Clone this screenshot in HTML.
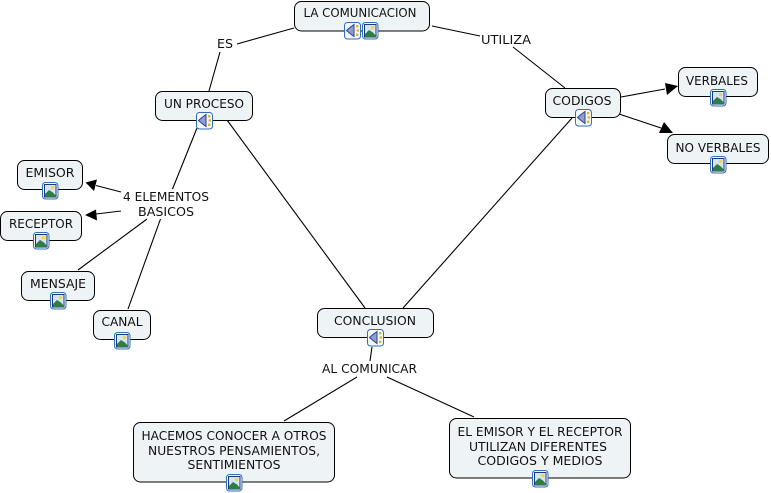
<!DOCTYPE html>
<html>
<head>
<meta charset="utf-8">
<style>
html,body{margin:0;padding:0;background:#fff;width:771px;height:493px;overflow:hidden}
svg{display:block}
text{font-family:"DejaVu Sans","Liberation Sans",sans-serif;font-size:12.2px;fill:#111;text-anchor:middle}
.n{fill:#eef3f6;stroke:#000;stroke-width:1}
.l{stroke:#000;stroke-width:1.1;fill:none}
.a{fill:#000}
</style>
</head>
<body>
<svg width="771" height="493" viewBox="0 0 771 493" xmlns="http://www.w3.org/2000/svg">
<defs>
<g id="img">
<rect x="0.5" y="0.5" width="15.5" height="16.5" rx="3" fill="#f4f8fc" stroke="#2f6fc0" stroke-width="1"/>
<rect x="2.5" y="2.5" width="11.5" height="12.5" fill="#d6e4f4" stroke="#1c3a78" stroke-width="1"/>
<circle cx="10.5" cy="5.5" r="1.8" fill="#f2d64a"/>
<path d="M3 15 L3 12 L7 8 L11 10.5 L14 14 L14 15 Z" fill="#2f7d45"/>
</g>
<g id="snd">
<rect x="0.5" y="0.5" width="16" height="16.5" rx="3" fill="#f4f8fc" stroke="#2f6fc0" stroke-width="1"/>
<path d="M2.5 8.5 L6 5.5 L10 2.5 L10 14.5 L6 11.5 Z" fill="#8d9fd2" stroke="#2c3f8a" stroke-width="1"/>
<rect x="12" y="3" width="2.4" height="2.4" fill="#d9b62e"/>
<rect x="12.6" y="7.3" width="2.4" height="2.4" fill="#d9b62e"/>
<rect x="12" y="11.6" width="2.4" height="2.4" fill="#d9b62e"/>
</g>
</defs>

<line class="l" x1="294" y1="28" x2="237" y2="44"/>
<line class="l" x1="220" y1="52" x2="209" y2="91"/>
<line class="l" x1="432" y1="26" x2="480" y2="36"/>
<line class="l" x1="513" y1="47" x2="565" y2="88"/>
<line class="l" x1="197" y1="128" x2="172.5" y2="189"/>
<line class="l" x1="227" y1="120" x2="365" y2="308"/>
<line class="l" x1="572" y1="118" x2="403" y2="308"/>
<line class="l" x1="372" y1="347" x2="370" y2="361"/>
<line class="l" x1="357" y1="377" x2="284" y2="421"/>
<line class="l" x1="387" y1="377" x2="474" y2="417"/>
<line class="l" x1="147" y1="219" x2="78" y2="270"/>
<line class="l" x1="160.5" y1="219" x2="128" y2="309"/>

<line class="l" x1="121" y1="192" x2="96" y2="185.5"/>
<polygon class="a" points="85.5,182.5 97,179.5 94,191"/>
<line class="l" x1="121" y1="211" x2="96" y2="214"/>
<polygon class="a" points="85,215 96,209.5 97,220.5"/>
<line class="l" x1="621" y1="97" x2="665" y2="89"/>
<polygon class="a" points="678,86 665,83 667,95"/>
<line class="l" x1="619" y1="114" x2="661" y2="128"/>
<polygon class="a" points="673,133 664,122 659,133"/>

<rect class="n" x="294.5" y="1.5" width="135" height="29.5" rx="7"/>
<rect class="n" x="155.5" y="91.5" width="97" height="29" rx="7"/>
<rect class="n" x="545.5" y="88.5" width="75" height="29" rx="7"/>
<rect class="n" x="678.5" y="67.5" width="79" height="29" rx="7"/>
<rect class="n" x="667.5" y="134.5" width="101" height="29" rx="7"/>
<rect class="n" x="17.5" y="160.5" width="65" height="29" rx="7"/>
<rect class="n" x="0.5" y="211.5" width="81" height="29" rx="7"/>
<rect class="n" x="21.5" y="271.5" width="73" height="29" rx="7"/>
<rect class="n" x="93.5" y="310.5" width="57" height="29" rx="7"/>
<rect class="n" x="317.5" y="308.5" width="116" height="29" rx="7"/>
<rect class="n" x="133.5" y="422.5" width="201" height="59.5" rx="7"/>
<rect class="n" x="449.5" y="418.5" width="181" height="59.5" rx="7"/>

<text x="360" y="17" textLength="113" lengthAdjust="spacingAndGlyphs">LA COMUNICACION</text>
<text x="204" y="108" textLength="80" lengthAdjust="spacingAndGlyphs">UN PROCESO</text>
<text x="582" y="105" textLength="59" lengthAdjust="spacingAndGlyphs">CODIGOS</text>
<text x="717" y="85" textLength="62" lengthAdjust="spacingAndGlyphs">VERBALES</text>
<text x="718" y="152" textLength="85" lengthAdjust="spacingAndGlyphs">NO VERBALES</text>
<text x="50" y="177" textLength="49" lengthAdjust="spacingAndGlyphs">EMISOR</text>
<text x="41" y="228" textLength="64" lengthAdjust="spacingAndGlyphs">RECEPTOR</text>
<text x="58" y="288" textLength="56" lengthAdjust="spacingAndGlyphs">MENSAJE</text>
<text x="122" y="326" textLength="41" lengthAdjust="spacingAndGlyphs">CANAL</text>
<text x="375" y="325" textLength="82" lengthAdjust="spacingAndGlyphs">CONCLUSION</text>
<text x="234" y="440" textLength="185" lengthAdjust="spacingAndGlyphs">HACEMOS CONOCER A OTROS</text>
<text x="234" y="455" textLength="172" lengthAdjust="spacingAndGlyphs">NUESTROS PENSAMIENTOS,</text>
<text x="234" y="469" textLength="93" lengthAdjust="spacingAndGlyphs">SENTIMIENTOS</text>
<text x="540" y="436" textLength="165" lengthAdjust="spacingAndGlyphs">EL EMISOR Y EL RECEPTOR</text>
<text x="538" y="451" textLength="138" lengthAdjust="spacingAndGlyphs">UTILIZAN DIFERENTES</text>
<text x="540" y="465" textLength="125" lengthAdjust="spacingAndGlyphs">CODIGOS Y MEDIOS</text>

<text x="225" y="48" textLength="16" lengthAdjust="spacingAndGlyphs">ES</text>
<text x="506" y="44" textLength="50" lengthAdjust="spacingAndGlyphs">UTILIZA</text>
<text x="166" y="201" textLength="86" lengthAdjust="spacingAndGlyphs">4 ELEMENTOS</text>
<text x="166" y="216" textLength="56" lengthAdjust="spacingAndGlyphs">BASICOS</text>
<text x="369.5" y="373" textLength="95" lengthAdjust="spacingAndGlyphs">AL COMUNICAR</text>

<use href="#snd" x="344" y="22"/>
<use href="#img" x="362" y="22"/>
<use href="#snd" x="196" y="112"/>
<use href="#snd" x="575" y="109"/>
<use href="#img" x="710" y="89"/>
<use href="#img" x="710" y="156"/>
<use href="#img" x="42" y="182"/>
<use href="#img" x="33" y="232"/>
<use href="#img" x="50" y="292"/>
<use href="#img" x="114" y="332"/>
<use href="#snd" x="367" y="329"/>
<use href="#img" x="226" y="474"/>
<use href="#img" x="532" y="470"/>
</svg>
</body>
</html>
